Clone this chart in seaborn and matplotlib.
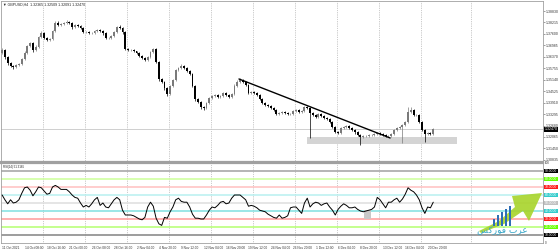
import numpy as np
import matplotlib
matplotlib.use("Agg")
import matplotlib.pyplot as plt
import matplotlib.transforms as mtrans
from matplotlib.patches import Rectangle, Polygon
import seaborn as sns

# ---------------- data ----------------
first_open = 1.3660
close = [
    1.3674, 1.3636, 1.3604, 1.3588, 1.3582, 1.3593, 1.3598, 1.3625, 1.3657, 1.3695,
    1.3711, 1.3674, 1.3690, 1.3743, 1.3765, 1.3738, 1.3727, 1.3733, 1.3775, 1.3819,
    1.3808, 1.3813, 1.3819, 1.3824, 1.3819, 1.3797, 1.3808, 1.3802, 1.3792, 1.3770,
    1.3770, 1.3765, 1.3765, 1.3775, 1.3781, 1.3775, 1.3765, 1.3738, 1.3738, 1.3749,
    1.3770, 1.3797, 1.3792, 1.3770, 1.3679, 1.3674, 1.3674, 1.3668, 1.3657, 1.3641,
    1.3631, 1.3620, 1.3636, 1.3663, 1.3679, 1.3609, 1.3518, 1.3502, 1.3469, 1.3437,
    1.3480, 1.3512, 1.3566, 1.3577, 1.3588, 1.3577, 1.3561, 1.3545, 1.3480, 1.3410,
    1.3394, 1.3367, 1.3362, 1.3389, 1.3416, 1.3427, 1.3432, 1.3421, 1.3427, 1.3443,
    1.3432, 1.3421, 1.3437, 1.3480, 1.3502, 1.3512, 1.3502, 1.3486, 1.3443, 1.3448,
    1.3443, 1.3432, 1.3410, 1.3389, 1.3378, 1.3373, 1.3362, 1.3351, 1.3330, 1.3335,
    1.3341, 1.3335, 1.3330, 1.3330, 1.3346, 1.3351, 1.3341, 1.3346, 1.3367, 1.3362,
    1.3335, 1.3324, 1.3314, 1.3330, 1.3319, 1.3309, 1.3303, 1.3287, 1.3260, 1.3233,
    1.3228, 1.3255, 1.3260, 1.3265, 1.3255, 1.3244, 1.3233, 1.3217, 1.3206, 1.3212,
    1.3212, 1.3217, 1.3217, 1.3222, 1.3228, 1.3222, 1.3217, 1.3212, 1.3212, 1.3222,
    1.3244, 1.3255, 1.3260, 1.3271, 1.3287, 1.3341, 1.3351, 1.3324, 1.3324, 1.3287,
    1.3244, 1.3222, 1.3228, 1.3222, 1.3247,
]
# upper / lower shadow lengths in pips beyond the body
up_pips = [
    8, 5, 4, 6, 3, 7, 5, 4, 9, 6,
    7, 5, 8, 6, 9, 4, 5, 6, 8, 10,
    12, 6, 5, 9, 7, 5, 6, 4, 5, 6,
    5, 7, 4, 6, 8, 5, 4, 6, 5, 7,
    6, 8, 12, 5, 4, 6, 5, 4, 3, 5,
    4, 5, 6, 7, 8, 5, 4, 6, 5, 7,
    6, 8, 5, 7, 9, 6, 5, 4, 5, 6,
    5, 4, 6, 7, 5, 6, 5, 8, 6, 5,
    4, 6, 7, 9, 8, 10, 6, 5, 4, 6,
    5, 4, 6, 5, 4, 6, 5, 4, 5, 6,
    4, 5, 6, 5, 7, 6, 5, 6, 8, 6,
    5, 6, 4, 7, 5, 6, 5, 4, 6, 5,
    6, 5, 7, 5, 6, 4, 5, 6, 5, 4,
    5, 4, 6, 5, 7, 6, 5, 4, 6, 5,
    6, 5, 7, 6, 5, 26, 16, 8, 6, 5,
    6, 5, 7, 5, 6,
]
dn_pips = [
    6, 8, 9, 7, 10, 5, 6, 4, 5, 6,
    5, 12, 6, 5, 4, 6, 7, 5, 4, 6,
    5, 4, 6, 5, 4, 8, 5, 6, 7, 5,
    6, 5, 7, 4, 5, 6, 8, 7, 5, 4,
    5, 4, 6, 8, 7, 6, 5, 6, 7, 5,
    6, 8, 5, 4, 6, 7, 9, 6, 10, 12,
    7, 5, 4, 6, 5, 6, 7, 6, 5, 8,
    7, 9, 10, 5, 6, 4, 5, 6, 7, 5,
    6, 7, 5, 4, 6, 5, 7, 6, 8, 5,
    6, 5, 7, 6, 5, 6, 7, 6, 8, 5,
    6, 7, 5, 6, 5, 4, 6, 5, 6, 5,
    134, 6, 5, 6, 5, 7, 6, 5, 8, 7,
    6, 5, 6, 5, 7, 6, 8, 5, 43, 6,
    5, 6, 7, 5, 6, 5, 6, 7, 5, 6,
    5, 6, 5, 86, 6, 5, 6, 7, 5, 6,
    7, 43, 6, 5, 6,
]
rsi = [
    60, 54, 49, 54, 50, 51, 54, 62, 69, 70,
    66, 59, 64, 70, 69, 65, 61, 62, 70, 72,
    70, 67, 67, 67, 64, 60, 57, 56, 50, 45,
    47, 45, 49, 54, 57, 47, 50, 45, 44, 49,
    54, 57, 54, 41, 35, 35, 35, 34, 32, 30,
    29, 32, 45, 51, 46, 31, 24, 22, 32, 31,
    39, 45, 54, 56, 52, 51, 51, 45, 36, 31,
    31, 30, 30, 35, 41, 45, 44, 47, 51, 52,
    49, 50, 56, 60, 60, 60, 57, 54, 46, 47,
    46, 44, 41, 40, 39, 36, 34, 32, 31, 35,
    31, 32, 34, 44, 45, 45, 41, 37, 50, 56,
    45, 49, 51, 50, 47, 49, 50, 45, 41, 35,
    42, 46, 49, 47, 44, 44, 45, 42, 40, 39,
    40, 41, 42, 45, 57, 54, 49, 44, 51, 51,
    54, 56, 51, 55, 61, 69, 66, 64, 60, 54,
    44, 37, 45, 44, 51,
]
time_labels = ["11 Oct 2021", "14 Oct 08:00", "18 Oct 16:00", "21 Oct 00:00",
               "26 Oct 08:00", "28 Oct 16:00", "2 Nov 04:00", "4 Nov 20:00",
               "9 Nov 12:00", "12 Nov 04:00", "16 Nov 20:00", "19 Nov 12:00",
               "24 Nov 04:00", "26 Nov 20:00", "1 Dec 12:00", "6 Dec 04:00",
               "8 Dec 20:00", "13 Dec 12:00", "16 Dec 04:00", "20 Dec 20:00"]
time_label_bars = [0, 8, 16, 24, 32, 40, 48, 56, 64, 72, 80, 88, 96, 104, 112,
                   120, 128, 136, 144, 152]
grid_bars = [14.6, 29.6, 44.6, 59.6, 74.6, 89.6, 104.6, 119.6, 134.6, 149.6, 167.5]
price_labels = ["1.38830", "1.38215", "1.37600", "1.36985", "1.36370", "1.35755",
                "1.35140", "1.34525", "1.33910", "1.33295", "1.32680", "1.32065",
                "1.31450", "1.30835"]
last_price = 1.32470
title_text = "\u25BC GBPUSD,H4  1.32365 1.32509 1.32091 1.32470"
rsi_title = "RSI(14) 51.3165"
trend_x = [84.6, 138.6]
trend_y = [1.3518, 1.3201]
zone_x = [108.9, 162.5]
zone_y = [1.3169, 1.3206]
rsi_zone_x = [129.3, 131.8]
rsi_zone_y = [30, 41]
rsi_levels = [90, 80, 70, 60, 50, 40, 30, 20, 10]
level_line_colors = ["#a8a8a8", "#ccff99", "#ffc0c0", "#b8f0f0", "#dedede",
                     "#80e0e0", "#ff9a9a", "#b4ff70", "#8c8c8c"]
level_box_colors = ["#000000", "#66ff00", "#ff1a1a", "#33cccc", "#c0c0c0",
                    "#33cccc", "#ff1a1a", "#66ff00", "#000000"]

# ---------------- figure ----------------
sns.set_style("white")
plt.rcParams["font.family"] = ["Liberation Sans", "DejaVu Sans"]

fig = plt.figure(figsize=(5.58, 2.5), dpi=100)
fig.patch.set_facecolor("white")
ax = fig.add_axes([0.0018, 0.352, 0.9713, 0.644])
ax2 = fig.add_axes([0.0018, 0.028, 0.9713, 0.32])

n = len(close)
xs = np.arange(n)
opens = np.array([first_open] + close[:-1])
closes = np.array(close)
bull = closes >= opens
cols = np.where(bull, "#7a7a7a", "#000000")
body = closes - opens
body = np.where(np.abs(body) < 0.00006, 0.00006, body)
hi = np.maximum(opens, closes) + np.array(up_pips) * 0.0001
lo = np.minimum(opens, closes) - np.array(dn_pips) * 0.0001

XMIN, XMAX = -0.4, 193.2
for a in (ax, ax2):
    a.set_xlim(XMIN, XMAX)
    for gx in grid_bars:
        a.axvline(gx, color="#9a9a9a", lw=0.5, ls=(0, (1, 1.6)), zorder=0)

FS = 2.55

# price panel
ax.set_ylim(1.3072, 1.3937)
ax.axhline(last_price, color="#c8c8c8", lw=0.6, zorder=1)
ax.add_patch(Rectangle((zone_x[0], zone_y[0]), zone_x[1] - zone_x[0],
                       zone_y[1] - zone_y[0], facecolor="#d4d4d4",
                       edgecolor="none", zorder=1))
ax.vlines(xs, lo, hi, colors=cols, lw=0.5, zorder=2)
ax.bar(xs, body, bottom=opens, width=0.7, color=cols, linewidth=0, zorder=3)
ax.plot(trend_x, trend_y, color="black", lw=1.0, zorder=4)

ax.yaxis.tick_right()
ax.set_yticks([float(v) for v in price_labels])
ax.set_yticklabels(price_labels, fontsize=FS, color="#333333")
ax.tick_params(axis="y", length=1.2, width=0.4, pad=0.8, colors="#555555",
               labelcolor="#333333")
ax.set_xticks([])
for s in ax.spines.values():
    s.set_color("#a0a0a0")
    s.set_linewidth(0.6)
ax.spines["bottom"].set_linewidth(1.6)
ax.text(0.004, 0.99, title_text, transform=ax.transAxes, fontsize=2.6,
        va="top", ha="left", color="#222222")
bt = mtrans.blended_transform_factory(ax.transAxes, ax.transData)
ax.text(1.0035, last_price, "%.5f" % last_price, transform=bt, fontsize=FS,
        color="white", va="center", ha="left",
        bbox=dict(facecolor="black", edgecolor="none", pad=0.4))

# RSI panel
ax2.set_ylim(0, 100)
for lvl, lc in zip(rsi_levels, level_line_colors):
    ax2.axhline(lvl, color=lc, lw=1.1 if lvl not in (90, 10) else 1.2, zorder=1)
ax2.add_patch(Rectangle((rsi_zone_x[0], rsi_zone_y[0]),
                        rsi_zone_x[1] - rsi_zone_x[0],
                        rsi_zone_y[1] - rsi_zone_y[0],
                        facecolor="#c8c8c8", edgecolor="none", zorder=1))
sns.lineplot(x=xs, y=rsi, ax=ax2, color="black", linewidth=0.7, zorder=3)

bt2 = mtrans.blended_transform_factory(ax2.transAxes, ax2.transData)
for lvl, bc in zip(rsi_levels, level_box_colors):
    ax2.text(1.0035, lvl, "%.4f" % lvl, transform=bt2, fontsize=2.4,
             color="white", va="center", ha="left",
             bbox=dict(facecolor=bc, edgecolor="none", pad=0.3))
ax2.text(1.004, 97.5, "100", transform=bt2, fontsize=2.2, color="#333333",
         va="bottom", ha="left")
ax2.text(1.004, 2.0, "0", transform=bt2, fontsize=2.2, color="#333333",
         va="top", ha="left")
ax2.set_yticks([])
ax2.set_ylabel("")
ax2.text(0.004, 0.975, rsi_title, transform=ax2.transAxes, fontsize=2.1,
         va="top", ha="left", color="#222222")
ax2.set_xticks(time_label_bars)
ax2.set_xticklabels(time_labels, fontsize=2.35, ha="left", color="#333333")
ax2.tick_params(axis="x", length=1.2, width=0.4, pad=0.8, colors="#555555",
                labelcolor="#333333")
for s in ax2.spines.values():
    s.set_color("#a0a0a0")
    s.set_linewidth(0.6)
ax2.spines["top"].set_linewidth(1.6)

# watermark logo (decoration) in RSI panel, axes-fraction coords
def px(xp, yp):
    return (xp / 542.0, (243.0 - yp) / 80.0)

arrow = Polygon([px(478, 231), px(498, 221), px(514, 207), px(511, 196),
                 px(541, 193), px(528, 221), px(522, 211), px(503, 224),
                 px(480, 233)], closed=True, transform=ax2.transAxes,
                facecolor="#a8d42a", edgecolor="none", alpha=0.9, zorder=5)
ax2.add_patch(arrow)
for k, (bx, top) in enumerate([(492, 219), (496, 215), (500, 212), (504, 209),
                               (508, 206)]):
    x0, y0 = px(bx, 226)
    x1, y1 = px(bx + 2.5, top)
    ax2.add_patch(Rectangle((x0, y0), x1 - x0, y1 - y0,
                            transform=ax2.transAxes, facecolor="#2f6fb5",
                            edgecolor="none", zorder=6))
tx, ty = px(501, 231)
ax2.text(tx, ty, "\uFEB2\uFEDB\uFEAD\uFEEE\uFED3 \uFE8F\uFEAE\uFECB",
         transform=ax2.transAxes, fontsize=6.5, color="#3aa6c8",
         ha="center", va="center", family=["DejaVu Sans"], zorder=7)

fig.savefig("out.png", dpi=100, facecolor="white")
